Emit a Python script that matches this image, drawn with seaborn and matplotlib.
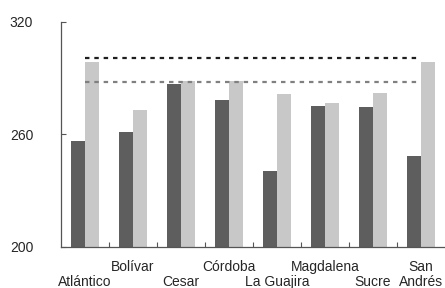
import matplotlib
matplotlib.use("Agg")
import matplotlib.pyplot as plt
import seaborn as sns
import pandas as pd
import numpy as np
from matplotlib.ticker import FixedLocator

departments = ["Atlántico", "Bolívar", "Cesar", "Córdoba", "La Guajira",
               "Magdalena", "Sucre", "San Andrés"]
tick_labels = ["\nAtlántico", "Bolívar", "\nCesar", "Córdoba", "\nLa Guajira",
               "Magdalena", "\nSucre", "San\nAndrés"]
series_names = ["A", "B"]
values_a = [256.2, 261.3, 286.7, 278.4, 240.7, 275.2, 274.5, 248.4]
values_b = [298.4, 273.0, 288.5, 288.5, 281.4, 276.8, 282.1, 298.4]
ref_black = 300.5
ref_gray = 288.1
y_ticks = [200, 260, 320]

df = pd.DataFrame({
    "dept": departments * 2,
    "serie": [series_names[0]] * len(departments) + [series_names[1]] * len(departments),
    "value": values_a + values_b,
})

sns.set_theme(style="white")
plt.rcParams["font.family"] = ["Liberation Sans", "DejaVu Sans"]

fig = plt.figure(figsize=(4.45, 2.88), dpi=100)
ax = fig.add_axes([61 / 445, 1 - 247 / 288, 1 - 61 / 445, (247 - 21.7) / 288])

sns.barplot(data=df, x="dept", y="value", hue="serie", order=departments,
            hue_order=series_names, palette=["#5e5e5e", "#c8c8c8"],
            width=0.6, linewidth=0, saturation=1, legend=False, ax=ax)

n = len(departments)
ax.hlines(ref_black, 0, n - 1, colors="#1e1e1e", linestyles=(0, (2, 2.2)), linewidth=1.6)
ax.hlines(ref_gray, 0, n - 1, colors="#808080", linestyles=(0, (2, 2.2)), linewidth=1.6)

ax.set_ylim(200, 320)
ax.set_xlim(-0.5, n - 0.5)
ax.set_yticks(y_ticks)

# upper row labels on the main axis, lower row labels on a secondary bottom axis
upper_pos = [i for i, t in enumerate(tick_labels) if not t.startswith("\n")]
lower_pos = [i for i, t in enumerate(tick_labels) if t.startswith("\n")]
ax.set_xticks(upper_pos)
ax.set_xticklabels([tick_labels[i] for i in upper_pos], fontsize=10, linespacing=1.1,
                   color="#262626")
sec = ax.secondary_xaxis("bottom")
sec.set_xticks(lower_pos)
sec.set_xticklabels([tick_labels[i].strip() for i in lower_pos], fontsize=10, color="#262626")
sec.tick_params(axis="x", length=0, pad=20.3)
sec.spines["bottom"].set_visible(False)

ax.xaxis.set_minor_locator(FixedLocator(np.arange(0.5, n - 0.5, 1)))
ax.tick_params(axis="x", which="major", length=0, pad=9.5)
ax.tick_params(axis="x", which="minor", direction="in", length=3.5, width=0.8, color="#555555", bottom=True)
ax.tick_params(axis="y", direction="in", length=3.5, width=0.8, color="#555555", pad=20,
               labelsize=10, left=True, labelcolor="#262626")
ax.set_xlabel("")
ax.set_ylabel("")

for s in ["top", "right"]:
    ax.spines[s].set_visible(False)
for s in ["left", "bottom"]:
    ax.spines[s].set_color("#555555")
    ax.spines[s].set_linewidth(0.9)

fig.savefig("out.png", dpi=100)
